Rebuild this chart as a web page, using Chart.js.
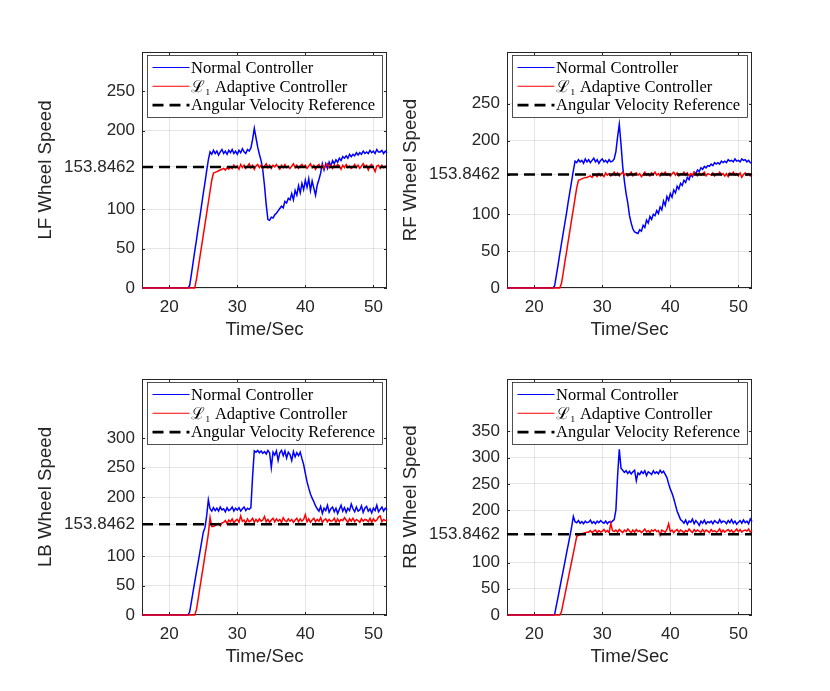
<!DOCTYPE html>
<html>
<head>
<meta charset="utf-8">
<title>Wheel speed: normal vs L1 adaptive controller</title>
<script src="https://cdn.jsdelivr.net/npm/chart.js@4.4.1/dist/chart.umd.min.js"></script>
<style>
  html, body { margin: 0; background: #fff; }
  #page { position: relative; width: 830px; height: 691px; overflow: hidden; background: #fff; }
  canvas { position: absolute; }
</style>
</head>
<body>
<div id="page">
  <canvas id="lf" width="415" height="345" style="left:0;top:0"></canvas>
  <canvas id="rf" width="415" height="345" style="left:365px;top:0"></canvas>
  <canvas id="lb" width="415" height="345" style="left:0;top:327px"></canvas>
  <canvas id="rb" width="415" height="345" style="left:365px;top:327px"></canvas>
</div>
<script>
'use strict'

// time stamps (sec), shared by every series
const t = [16, 22.5, 22.75,
  23, 23.25, 23.5, 23.75,  24, 24.25, 24.5, 24.75,  25, 25.25, 25.5, 25.75,
  26, 26.25, 26.5, 26.75,  27, 27.25, 27.5, 27.75,  28, 28.25, 28.5, 28.75,
  29, 29.25, 29.5, 29.75,  30, 30.25, 30.5, 30.75,  31, 31.25, 31.5, 31.75,
  32, 32.25, 32.5, 32.75,  33, 33.25, 33.5, 33.75,  34, 34.25, 34.5, 34.75,
  35, 35.25, 35.5, 35.75,  36, 36.25, 36.5, 36.75,  37, 37.25, 37.5, 37.75,
  38, 38.25, 38.5, 38.75,  39, 39.25, 39.5, 39.75,  40, 40.25, 40.5, 40.75,
  41, 41.25, 41.5, 41.75,  42, 42.25, 42.5, 42.75,  43, 43.25, 43.5, 43.75,
  44, 44.25, 44.5, 44.75,  45, 45.25, 45.5, 45.75,  46, 46.25, 46.5, 46.75,
  47, 47.25, 47.5, 47.75,  48, 48.25, 48.5, 48.75,  49, 49.25, 49.5, 49.75,
  50, 50.25, 50.5, 50.75,  51, 51.25, 51.5, 51.75,  52];

// LF wheel
const lfNormal = [0, 0, 0,
  3, 17, 32, 47,  61, 76, 90, 105,  120, 134, 149, 163,
  173, 170, 175, 171,  174, 169, 173, 176,  171, 174, 170, 175,
  172, 176, 171, 174,  170, 175, 172, 177,  173, 171, 176, 174,
  178, 189, 203, 191,  179, 170, 162, 150,  130, 106, 87, 86,
  90, 89, 93, 95,  98, 101, 104, 102,  110, 108, 114, 112,
  120, 112, 124, 118,  130, 121, 133, 125,  137, 128, 139, 124,
  136, 127, 118, 131,  138, 146, 158, 150,  158, 152, 160, 155,
  162, 158, 163, 160,  165, 162, 167, 165,  168, 165, 170, 167,
  170, 168, 172, 169,  172, 170, 174, 171,  173, 171, 175, 172,
  174, 171, 176, 173,  173, 175, 171, 174,  172];
const lfL1 = [0, 0, 0,
  0, 0, 0, 0,  11, 25, 39, 53,  67, 81, 95, 109,
  123, 137, 146, 147,  148, 149, 150, 151,  152, 150, 153, 151,
  154, 152, 156, 153,  155, 151, 157, 153,  156, 152, 155, 158,
  153, 156, 151, 155,  157, 153, 156, 152,  155, 158, 153, 156,
  152, 156, 154, 157,  154, 151, 156, 153,  157, 153, 155, 152,
  155, 158, 153, 156,  152, 155, 157, 154,  156, 152, 155, 158,
  153, 156, 151, 155,  157, 153, 156, 152,  155, 158, 153, 156,
  152, 156, 154, 157,  155, 151, 156, 153,  157, 153, 155, 152,
  154, 157, 153, 156,  152, 155, 158, 154,  156, 150, 155, 157,
  153, 148, 155, 156,  152, 156, 153, 155,  154];

// RF wheel
const rfNormal = [0, 0, 0,
  3, 17, 31, 46,  60, 74, 88, 102,  117, 131, 145, 159,
  172, 170, 174, 171,  173, 169, 175, 171,  174, 170, 173, 176,
  171, 174, 169, 173,  175, 171, 173, 170,  174, 171, 172, 175,
  185, 205, 222, 195,  165, 145, 128, 115,  98, 88, 80, 76,
  75, 74, 79, 77,  85, 82, 92, 88,  97, 93, 100, 98,
  105, 101, 110, 106,  118, 112, 124, 119,  128, 123, 133, 129,
  138, 134, 142, 139,  146, 143, 150, 147,  154, 151, 157, 155,
  160, 158, 163, 161,  165, 163, 166, 165,  168, 166, 170, 168,
  170, 168, 172, 170,  172, 170, 174, 172,  173, 171, 175, 172,
  173, 171, 175, 173,  174, 171, 173, 170,  170];
const rfL1 = [0, 0, 0,
  0, 0, 0, 0,  6, 20, 35, 49,  64, 78, 93, 107,
  122, 136, 146, 147,  148, 149, 150, 150,  151, 152, 150, 153,
  153, 151, 155, 152,  154, 151, 156, 153,  155, 152, 154, 157,
  153, 156, 152, 155,  157, 153, 155, 152,  154, 157, 152, 155,
  156, 153, 155, 151,  154, 157, 153, 155,  152, 156, 154, 157,
  153, 155, 152, 156,  154, 157, 153, 155,  152, 155, 157, 153,
  156, 152, 155, 154,  157, 153, 156, 152,  155, 153, 157, 154,
  152, 156, 153, 155,  157, 152, 155, 154,  153, 156, 152, 155,
  154, 157, 153, 155,  152, 155, 151, 156,  154, 157, 153, 155,
  152, 156, 150, 154,  156, 153, 155, 152,  154];

// LB wheel
const lbNormal = [0, 0, 0,
  5, 22, 39, 56,  73, 89, 106, 123,  140, 148, 168, 195,
  180, 176, 182, 177,  181, 176, 183, 178,  180, 175, 182, 177,
  179, 183, 176, 181,  178, 182, 176, 180,  183, 177, 181, 179,
  182, 235, 278, 276,  279, 275, 278, 274,  277, 273, 279, 275,
  250, 276, 271, 278,  262, 275, 279, 270,  278, 266, 276, 272,
  262, 277, 268, 275,  270, 276, 265, 255,  240, 226, 215, 205,
  198, 192, 185, 180,  176, 184, 172, 181,  177, 186, 174, 180,
  183, 175, 181, 172,  179, 186, 176, 182,  174, 181, 177, 188,
  180, 175, 183, 176,  178, 185, 174, 181,  184, 176, 180, 173,
  181, 177, 186, 175,  179, 183, 176, 181,  178];
const lbL1 = [0, 0, 0,
  0, 0, 0, 0,  9, 27, 46, 64,  82, 101, 119, 138,
  165, 150, 150, 152,  153, 155, 151, 156,  157, 160, 155, 161,
  158, 163, 156, 160,  162, 157, 168, 159,  161, 156, 163, 158,
  160, 164, 157, 162,  158, 163, 159, 161,  167, 158, 162, 157,
  161, 164, 158, 163,  159, 162, 157, 165,  160, 158, 163, 159,
  162, 157, 161, 164,  158, 163, 159, 162,  170, 158, 163, 157,
  161, 164, 158, 162,  159, 165, 157, 161,  163, 158, 162, 159,
  160, 164, 157, 163,  158, 162, 160, 165,  161, 157, 163, 159,
  164, 158, 162, 160,  157, 163, 159, 162,  161, 158, 164, 157,
  163, 159, 161, 166,  168, 158, 162, 160,  161];

// RB wheel
const rbNormal = [0, 0, 0,
  1, 18, 34, 51,  68, 84, 101, 118,  134, 151, 168, 188,
  178, 176, 180, 175,  178, 174, 179, 176,  177, 181, 175, 178,
  174, 179, 176, 180,  177, 175, 179, 174,  178, 176, 179, 182,
  200, 265, 316, 280,  276, 272, 275, 270,  274, 269, 273, 276,
  256, 271, 268, 274,  270, 275, 266, 273,  271, 268, 275, 270,
  273, 269, 276, 271,  274, 268, 262, 250,  240, 232, 222, 210,
  198, 190, 182, 179,  175, 181, 173, 179,  177, 183, 174, 180,
  176, 171, 179, 175,  181, 174, 178, 176,  179, 174, 180, 177,
  175, 182, 176, 179,  178, 174, 180, 176,  182, 175, 179, 173,
  177, 180, 175, 181,  176, 179, 174, 183,  178];
const rbL1 = [0, 0, 0,
  0, 0, 0, 0,  6, 22, 38, 54,  70, 86, 102, 118,
  134, 150, 152, 153,  155, 156, 157, 158,  158, 161, 157, 160,
  162, 157, 161, 158,  160, 163, 158, 161,  157, 175, 161, 159,
  162, 158, 163, 160,  157, 162, 159, 164,  160, 157, 162, 158,
  163, 159, 161, 157,  160, 164, 158, 161,  157, 162, 160, 163,
  159, 161, 152, 162,  160, 158, 163, 174,  159, 162, 157, 161,
  163, 158, 162, 160,  157, 161, 159, 164,  160, 157, 163, 159,
  162, 160, 158, 163,  158, 162, 160, 157,  163, 159, 161, 158,
  160, 164, 157, 162,  158, 161, 163, 159,  162, 157, 160, 164,
  159, 163, 158, 161,  162, 160, 164, 158,  161];

// angular velocity reference
const refValue = 153.8462;
const refTime = [16, 52];

const xTicks = [20, 30, 40, 50];
const yTicksLF = [0, 50, 100, 153.8462, 200, 250];
const yTicksRF = [0, 50, 100, 153.8462, 200, 250];
const yTicksLB = [0, 50, 100, 153.8462, 200, 250, 300];
const yTicksRB = [0, 50, 100, 153.8462, 200, 250, 300, 350];
const yMaxes = [300, 320, 400, 450];

const legendLabels = ['Normal Controller', 'ℒ₁ Adaptive Controller', 'Angular Velocity Reference'];
const wheelTitles = ['LF Wheel Speed', 'RF Wheel Speed', 'LB Wheel Speed', 'RB Wheel Speed'];

const axisColor = '#262626';
const sansFont = '"Liberation Sans", Arial, Helvetica, sans-serif';
const serifFont = '"Liberation Serif", "DejaVu Serif", serif';

// matlab style box + inward tick marks (under the lines) and a legend inside the axes
const matlabLook = {
  id: 'matlabLook',
  beforeDatasetsDraw(chart) {
    const {ctx, chartArea: a} = chart;
    const xs = chart.scales.x, ys = chart.scales.y;
    ctx.save();
    ctx.strokeStyle = axisColor;
    ctx.lineWidth = 1;
    ctx.setLineDash([]);
    ctx.strokeRect(Math.round(a.left) + 0.5, Math.round(a.top) + 0.5,
      Math.round(a.right - a.left) - 1, Math.round(a.bottom - a.top) - 1);
    ctx.beginPath();
    xs.ticks.forEach(tk => {
      const px = Math.round(xs.getPixelForValue(tk.value)) + 0.5;
      ctx.moveTo(px, a.bottom); ctx.lineTo(px, a.bottom - 3);
      ctx.moveTo(px, a.top); ctx.lineTo(px, a.top + 3);
    });
    ys.ticks.forEach(tk => {
      const py = Math.round(ys.getPixelForValue(tk.value)) + 0.5;
      ctx.moveTo(a.left, py); ctx.lineTo(a.left + 3, py);
      ctx.moveTo(a.right, py); ctx.lineTo(a.right - 3, py);
    });
    ctx.stroke();
    ctx.restore();
  },
  afterDraw(chart) {
    const {ctx, chartArea: a} = chart;
    const w = 235, h = 62;
    const x0 = Math.round((a.left + a.right) / 2 - w / 2) + 0.5;
    const y0 = Math.round(a.top + 3) + 0.5;
    ctx.save();
    ctx.fillStyle = '#fff';
    ctx.fillRect(x0, y0, w, h);
    ctx.strokeStyle = axisColor;
    ctx.lineWidth = 0.8;
    ctx.strokeRect(x0, y0, w, h);
    ctx.font = '16.5px ' + serifFont;
    ctx.textBaseline = 'middle';
    chart.data.datasets.forEach((ds, i) => {
      const y = y0 + 12 + i * 18.8;
      ctx.beginPath();
      ctx.strokeStyle = ds.borderColor;
      ctx.lineWidth = i === 2 ? ds.borderWidth : 1.1;
      ctx.setLineDash(ds.borderDash || []);
      ctx.moveTo(x0 + 5, y);
      ctx.lineTo(x0 + 42, y);
      ctx.stroke();
      ctx.setLineDash([]);
      ctx.fillStyle = '#000';
      ctx.fillText(ds.label, x0 + 43.5, y + 1);
    });
    ctx.restore();
  }
};

function makeChart(id, title, normal, l1, yMax, yTicks) {
  const pts = arr => t.map((x, i) => ({x: x, y: arr[i]}));
  return new Chart(document.getElementById(id), {
    type: 'line',
    data: {
      datasets: [
        {label: legendLabels[0], data: pts(normal), borderColor: '#0000ff', borderWidth: 1.5, order: 2, clip: 2},
        {label: legendLabels[1], data: pts(l1), borderColor: '#ff0000', borderWidth: 1.5, order: 1, clip: 2},
        {label: legendLabels[2], data: refTime.map(x => ({x: x, y: refValue})),
          borderColor: '#000000', borderWidth: 2.6, borderDash: [11, 6], order: 0}
      ]
    },
    options: {
      responsive: false,
      animation: false,
      events: [],
      elements: {point: {radius: 0}, line: {tension: 0}},
      layout: {padding: {left: 31, right: 28, top: 52, bottom: 0}},
      plugins: {legend: {display: false}, tooltip: {enabled: false}},
      scales: {
        x: {
          type: 'linear', min: 16, max: 52,
          afterBuildTicks: s => { s.ticks = xTicks.map(v => ({value: v})); },
          afterFit: s => { s.height = 57; },
          border: {display: false},
          grid: {color: 'rgba(38,38,38,0.12)', lineWidth: 1, drawTicks: false},
          ticks: {color: axisColor, font: {family: sansFont, size: 17}, padding: 9,
            maxRotation: 0, callback: v => String(v)},
          title: {display: true, text: 'Time/Sec', color: axisColor,
            font: {family: sansFont, size: 18.7}, padding: {top: 4, bottom: 4}}
        },
        y: {
          type: 'linear', min: 0, max: yMax,
          afterBuildTicks: s => { s.ticks = yTicks.map(v => ({value: v})); },
          afterFit: s => { s.width = 111; },
          border: {display: false},
          grid: {color: 'rgba(38,38,38,0.12)', lineWidth: 1, drawTicks: false},
          ticks: {color: axisColor, font: {family: sansFont, size: 17}, padding: 7,
            callback: v => String(v)},
          title: {display: true, text: title, color: axisColor,
            font: {family: sansFont, size: 18.7}, padding: {top: 4, bottom: 4}}
        }
      }
    },
    plugins: [matlabLook]
  });
}

makeChart('lf', wheelTitles[0], lfNormal, lfL1, yMaxes[0], yTicksLF);
makeChart('rf', wheelTitles[1], rfNormal, rfL1, yMaxes[1], yTicksRF);
makeChart('lb', wheelTitles[2], lbNormal, lbL1, yMaxes[2], yTicksLB);
makeChart('rb', wheelTitles[3], rbNormal, rbL1, yMaxes[3], yTicksRB);
</script>
</body>
</html>
